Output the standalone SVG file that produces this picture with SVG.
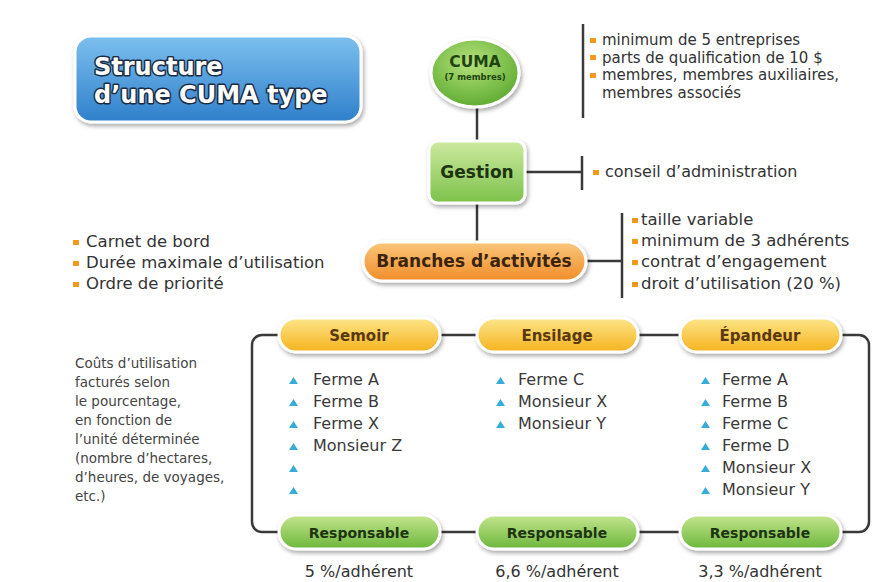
<svg xmlns="http://www.w3.org/2000/svg" width="892" height="582" viewBox="0 0 892 582">
<defs>
<linearGradient id="gBlue" x1="0" y1="0" x2="0" y2="1"><stop offset="0" stop-color="#7cc0ee"/><stop offset="1" stop-color="#2f7fcb"/></linearGradient>
<radialGradient id="gCuma" cx="0.45" cy="0.35" r="0.7"><stop offset="0" stop-color="#b6e27c"/><stop offset="1" stop-color="#58a82c"/></radialGradient>
<linearGradient id="gGreen" x1="0" y1="0" x2="0" y2="1"><stop offset="0" stop-color="#cdeaa0"/><stop offset="1" stop-color="#7cc14a"/></linearGradient>
<linearGradient id="gOrange" x1="0" y1="0" x2="0" y2="1"><stop offset="0" stop-color="#fbc77a"/><stop offset="1" stop-color="#f08c2a"/></linearGradient>
<linearGradient id="gYellow" x1="0" y1="0" x2="0" y2="1"><stop offset="0" stop-color="#fde68a"/><stop offset="1" stop-color="#f5b31e"/></linearGradient>
<linearGradient id="gResp" x1="0" y1="0" x2="0" y2="1"><stop offset="0" stop-color="#c4e68e"/><stop offset="1" stop-color="#6cb63c"/></linearGradient>
<filter id="sh" x="-20%" y="-30%" width="140%" height="170%"><feDropShadow dx="1.5" dy="2.5" stdDeviation="2" flood-color="#000" flood-opacity="0.35"/></filter>
</defs>
<style>
.t{font-family:"DejaVu Sans","Liberation Sans",sans-serif;fill:#333;}
.s15{font-size:15px;}
.s16{font-size:16px;}
.s165{font-size:16.5px;}
.it{font-size:16px;fill:#3a3a3a;}
.note{font-size:13.5px;fill:#444;}
.nb{font-family:"DejaVu Sans","Liberation Sans",sans-serif;font-weight:bold;text-anchor:middle;}
.ln{stroke:#3a3a3a;stroke-width:2.5;fill:none;}
.ob{fill:#f39a1e;}
.bb{fill:#38acd8;}
.box{stroke:#fff;stroke-width:3;filter:url(#sh);}
</style>
<rect width="892" height="582" fill="#fff"/>

<g id="connectors">
<line class="ln" x1="477" y1="106" x2="477" y2="142"/>
<line class="ln" x1="477" y1="203" x2="477" y2="242"/>
<line class="ln" x1="525" y1="172" x2="582" y2="172"/>
<line class="ln" x1="582" y1="156" x2="582" y2="190"/>
<line class="ln" x1="583" y1="24" x2="583" y2="118"/>
<line class="ln" x1="586" y1="261" x2="622" y2="261"/>
<line class="ln" x1="622" y1="213" x2="622" y2="298"/>
<rect class="ln" x="252" y="335" width="617" height="197" rx="10"/>
</g>

<g id="title">
<rect class="box" x="75" y="36" width="286" height="86" rx="16" fill="url(#gBlue)"/>
<g font-family="'DejaVu Sans','Liberation Sans',sans-serif" font-weight="bold" font-size="24" fill="#fff" stroke="#1c2c44" stroke-width="3" paint-order="stroke" stroke-linejoin="round">
<text x="94" y="75">Structure</text>
<text x="94" y="103">d’une CUMA type</text>
</g>
</g>

<g id="cuma">
<ellipse class="box" cx="475" cy="73" rx="44" ry="34" fill="url(#gCuma)"/>
<text class="nb" x="475" y="67" font-size="15.5" fill="#1f4410">CUMA</text>
<text class="nb" x="475" y="80" font-size="8.5" fill="#1f4410">(7 membres)</text>
</g>

<g id="cuma-notes">
<rect class="ob" x="590" y="38" width="6" height="5"/>
<rect class="ob" x="590" y="55" width="6" height="5"/>
<rect class="ob" x="590" y="73" width="6" height="5"/>
<text class="t s15" x="602" y="45">minimum de 5 entreprises</text>
<text class="t s15" x="602" y="62.5">parts de qualification de 10 $</text>
<text class="t s15" x="602" y="80">membres, membres auxiliaires,</text>
<text class="t s15" x="602" y="97.5">membres associés</text>
</g>

<g id="gestion">
<rect class="box" x="429" y="141" width="96" height="62" rx="9" fill="url(#gGreen)"/>
<text class="nb" x="477" y="178" font-size="17" fill="#1e3312">Gestion</text>
</g>

<g id="gestion-notes">
<rect class="ob" x="593" y="170" width="6" height="5"/>
<text class="t s16" x="605" y="177">conseil d’administration</text>
</g>

<g id="branches">
<rect class="box" x="363" y="242" width="223" height="39" rx="19.5" fill="url(#gOrange)"/>
<text class="nb" x="474" y="267" font-size="17" fill="#3a2410">Branches d’activités</text>
</g>

<g id="branches-notes">
<rect class="ob" x="632" y="218" width="6" height="5"/>
<rect class="ob" x="632" y="239" width="6" height="5"/>
<rect class="ob" x="632" y="260" width="6" height="5"/>
<rect class="ob" x="632" y="282" width="6" height="5"/>
<text class="t s165" x="641" y="225">taille variable</text>
<text class="t s165" x="641" y="246">minimum de 3 adhérents</text>
<text class="t s165" x="641" y="267">contrat d’engagement</text>
<text class="t s165" x="641" y="289">droit d’utilisation (20 %)</text>
</g>

<g id="usage-rules">
<rect class="ob" x="73" y="240" width="6" height="5"/>
<rect class="ob" x="73" y="261" width="6" height="5"/>
<rect class="ob" x="73" y="282" width="6" height="5"/>
<text class="t s165" x="86" y="247">Carnet de bord</text>
<text class="t s165" x="86" y="268">Durée maximale d’utilisation</text>
<text class="t s165" x="86" y="289">Ordre de priorité</text>
</g>

<g id="cost-note">
<text class="t note" x="75" y="368">Coûts d’utilisation</text>
<text class="t note" x="75" y="387">facturés selon</text>
<text class="t note" x="75" y="406">le pourcentage,</text>
<text class="t note" x="75" y="425">en fonction de</text>
<text class="t note" x="75" y="444">l’unité déterminée</text>
<text class="t note" x="75" y="463">(nombre d’hectares,</text>
<text class="t note" x="75" y="482">d’heures, de voyages,</text>
<text class="t note" x="75" y="501">etc.)</text>
</g>

<g id="semoir">
<rect class="box" x="279" y="318" width="161" height="34" rx="17" fill="url(#gYellow)"/>
<text class="nb" x="359" y="341" font-size="15" fill="#5a3810">Semoir</text>
</g>
<g id="ensilage">
<rect class="box" x="477" y="318" width="161" height="34" rx="17" fill="url(#gYellow)"/>
<text class="nb" x="557" y="341" font-size="15" fill="#5a3810">Ensilage</text>
</g>
<g id="epandeur">
<rect class="box" x="680" y="318" width="161" height="34" rx="17" fill="url(#gYellow)"/>
<text class="nb" x="760" y="341" font-size="15" fill="#5a3810">Épandeur</text>
</g>

<g id="semoir-members">
<path class="bb" d="M289 384l4.5-7 4.5 7z M289 406l4.5-7 4.5 7z M289 428l4.5-7 4.5 7z M289 450l4.5-7 4.5 7z M289 472l4.5-7 4.5 7z M289 494l4.5-7 4.5 7z"/>
<text class="t it" x="313" y="385">Ferme A</text>
<text class="t it" x="313" y="407">Ferme B</text>
<text class="t it" x="313" y="429">Ferme X</text>
<text class="t it" x="313" y="451">Monsieur Z</text>
</g>
<g id="ensilage-members">
<path class="bb" d="M496 384l4.5-7 4.5 7z M496 406l4.5-7 4.5 7z M496 428l4.5-7 4.5 7z"/>
<text class="t it" x="518" y="385">Ferme C</text>
<text class="t it" x="518" y="407">Monsieur X</text>
<text class="t it" x="518" y="429">Monsieur Y</text>
</g>
<g id="epandeur-members">
<path class="bb" d="M701 384l4.5-7 4.5 7z M701 406l4.5-7 4.5 7z M701 428l4.5-7 4.5 7z M701 450l4.5-7 4.5 7z M701 472l4.5-7 4.5 7z M701 494l4.5-7 4.5 7z"/>
<text class="t it" x="722" y="385">Ferme A</text>
<text class="t it" x="722" y="407">Ferme B</text>
<text class="t it" x="722" y="429">Ferme C</text>
<text class="t it" x="722" y="451">Ferme D</text>
<text class="t it" x="722" y="473">Monsieur X</text>
<text class="t it" x="722" y="495">Monsieur Y</text>
</g>

<g id="resp-semoir">
<rect class="box" x="279" y="515" width="161" height="34" rx="17" fill="url(#gResp)"/>
<text class="nb" x="359" y="538" font-size="14" fill="#1e3312">Responsable</text>
<text class="t s16" x="359" y="577" text-anchor="middle">5 %/adhérent</text>
</g>
<g id="resp-ensilage">
<rect class="box" x="477" y="515" width="161" height="34" rx="17" fill="url(#gResp)"/>
<text class="nb" x="557" y="538" font-size="14" fill="#1e3312">Responsable</text>
<text class="t s16" x="557" y="577" text-anchor="middle">6,6 %/adhérent</text>
</g>
<g id="resp-epandeur">
<rect class="box" x="680" y="515" width="161" height="34" rx="17" fill="url(#gResp)"/>
<text class="nb" x="760" y="538" font-size="14" fill="#1e3312">Responsable</text>
<text class="t s16" x="760" y="577" text-anchor="middle">3,3 %/adhérent</text>
</g>
</svg>
